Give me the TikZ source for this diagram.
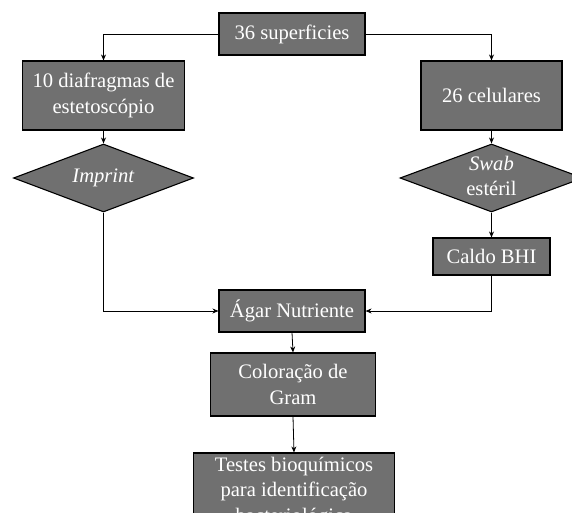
\documentclass[tikz,border=0pt]{standalone}
\usepackage{fontspec}
\setmainfont{Liberation Serif}
\usetikzlibrary{arrows.meta,shapes.geometric}
\definecolor{boxgray}{RGB}{112,112,112}
\newcommand{\dtext}[1]{\smash{\makebox[0pt]{\raisebox{-5pt}{\begin{tabular}{@{}c@{}}#1\end{tabular}}}}}
\tikzset{
    stepbox/.style={draw=black,line width=1.1pt,fill=boxgray,text=white,align=center,
        inner sep=0pt,font=\fontsize{20.6}{25.5}\selectfont},
    decision/.style={stepbox,diamond},
    arr/.style={draw=black,line width=0.8pt,-{Stealth[length=6pt,width=5pt]}}
}
\begin{document}
\begin{tikzpicture}[x=1pt,y=-1pt]
                \useasboundingbox (0,0) rectangle (572,513);
                \clip (0,0) rectangle (572,513);
                \node[stepbox,minimum width=146pt,minimum height=42pt] (sup) at (292,34) {36 superficies};
                \node[stepbox,minimum width=162pt,minimum height=69pt] (diaf) at (103.5,95.5) {10 diafragmas de\\estetoscópio};
                \node[stepbox,minimum width=141pt,minimum height=69pt] (cel) at (491.5,95.5) {26 celulares};
                \node[decision,minimum width=180pt,minimum height=68pt] (imp) at (103.5,178) {\dtext{\textit{Imprint}}};
                \node[decision,minimum width=183pt,minimum height=68pt] (swab) at (491.5,178) {\dtext{\textit{Swab}\\estéril}};
                \node[stepbox,minimum width=117pt,minimum height=37pt] (caldo) at (491.5,256.5) {Caldo BHI};
                \node[stepbox,minimum width=146pt,minimum height=42pt] (agar) at (292,311) {Ágar Nutriente};
                \node[stepbox,minimum width=165pt,minimum height=63pt] (gram) at (293,384.5) {Coloração de\\Gram};
                \node[stepbox,minimum width=201pt,minimum height=78pt] (testes) at (294,492) {Testes bioquímicos\\para identificação\\bacteriológica};
                \draw[arr] (sup.west) -| (diaf.north);
                \draw[arr] (sup.east) -| (cel.north);
                \draw[arr] (diaf.south) -- (imp.north);
                \draw[arr] (cel.south) -- (swab.north);
                \draw[arr] (swab.south) -- (caldo.north);
                \draw[arr] (imp.south) |- (agar.west);
                \draw[arr] (caldo.south) |- (agar.east);
                \draw[arr] (agar.south) -- (gram.north);
                \draw[arr] (gram.south) -- (testes.north);
\end{tikzpicture}
\end{document}
